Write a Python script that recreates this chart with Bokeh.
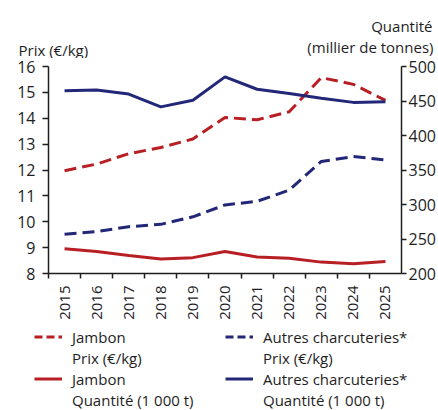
import math
from bokeh.plotting import figure
from bokeh.models import (Range1d, LinearAxis, FixedTicker, Label, Legend, LegendItem,
                          ColumnDataSource)
from bokeh.embed import file_html
from bokeh.resources import INLINE

years = [2015, 2016, 2017, 2018, 2019, 2020, 2021, 2022, 2023, 2024, 2025]
jambon_prix = [11.97, 12.23, 12.63, 12.87, 13.2, 14.03, 13.94, 14.25, 15.57, 15.31, 14.69]
autres_prix = [9.52, 9.62, 9.81, 9.9, 10.19, 10.65, 10.79, 11.22, 12.33, 12.52, 12.39]
jambon_qte = [236, 232, 226, 221, 223, 232, 224, 222, 216.5, 214, 217.5]
autres_qte = [465, 466, 460, 441.5, 451, 485, 467, 461, 454, 448, 449]

left_ticks = [8, 9, 10, 11, 12, 13, 14, 15, 16]
right_ticks = [200, 250, 300, 350, 400, 450, 500]

RED = "#b81f25"
BLUE = "#232778"
INK = "#1e1e1e"
FONT = "Open Sans"
W = 438


def bare_figure(h, xr, yr):
    f = figure(width=W, height=h, output_backend="svg", toolbar_location=None,
               x_range=xr, y_range=yr, x_axis_type=None, y_axis_type=None,
               min_border=0, min_border_left=0, min_border_right=0,
               min_border_top=0, min_border_bottom=0)
    f.title = None
    f.outline_line_color = None
    f.grid.visible = False
    return f


src = ColumnDataSource(dict(x=years, jp=jambon_prix, ap=autres_prix,
                            jq=jambon_qte, aq=autres_qte))

# ---------- header with axis titles ----------
HEAD_H = 58
head = bare_figure(HEAD_H, Range1d(0, W), Range1d(HEAD_H, 0))
for txt, x, y, al in [("Prix (€/kg)", 18, 49, "left"),
                      ("Quantité", 432, 25, "right"),
                      ("(millier de tonnes)", 433, 46, "right")]:
    head.add_layout(Label(x=x, y=y, text=txt, text_font=FONT, text_font_size="15px",
                          text_color=INK, text_align=al, text_baseline="alphabetic"))

# ---------- main chart ----------
x0, x1 = years[0] - 0.5, years[-1] + 0.5
TOP = 66 - HEAD_H
MAIN_H = 322 - HEAD_H
p = figure(width=W, height=MAIN_H, output_backend="svg", toolbar_location=None,
           x_range=Range1d(x0, x1),
           y_range=Range1d(left_ticks[0], left_ticks[-1]),
           min_border_left=48, min_border_right=37, min_border_top=TOP,
           min_border_bottom=MAIN_H - TOP - 212)
p.title = None
p.extra_y_ranges = {"q": Range1d(right_ticks[0], right_ticks[-1])}
p.outline_line_color = None
p.grid.visible = False

xa = p.xaxis[0]
xa.ticker = FixedTicker(ticks=years,
                        minor_ticks=[y + 0.5 for y in years[:-1]] + [x0])
xa.major_tick_in = 0
xa.major_tick_out = 0
xa.minor_tick_in = 0
xa.minor_tick_out = 5
xa.minor_tick_line_color = INK
xa.minor_tick_line_width = 1.5
xa.axis_line_color = INK
xa.axis_line_width = 1.5
xa.major_label_orientation = math.pi / 2
xa.major_label_standoff = 7
xa.major_label_text_font = FONT
xa.major_label_text_font_size = "15px"
xa.major_label_text_color = INK

ya = p.yaxis[0]
ya.ticker = FixedTicker(ticks=left_ticks)
ya.major_tick_in = 0
ya.major_tick_out = 6
ya.minor_tick_line_color = None
ya.major_tick_line_color = INK
ya.major_tick_line_width = 1.5
ya.axis_line_color = INK
ya.axis_line_width = 1.5
ya.major_label_standoff = 7
ya.major_label_text_font = FONT
ya.major_label_text_font_size = "16px"
ya.major_label_text_color = INK

ra = LinearAxis(y_range_name="q", ticker=FixedTicker(ticks=right_ticks))
ra.major_tick_in = 0
ra.major_tick_out = 5
ra.minor_tick_line_color = None
ra.major_tick_line_color = INK
ra.major_tick_line_width = 1.5
ra.axis_line_color = INK
ra.axis_line_width = 1.5
ra.major_label_standoff = 2
ra.major_label_text_font = FONT
ra.major_label_text_font_size = "16px"
ra.major_label_text_color = INK
p.add_layout(ra, "right")

p.line("x", "jp", source=src, line_color=RED, line_width=3, line_dash="12 6")
p.line("x", "ap", source=src, line_color=BLUE, line_width=3, line_dash="12 6")
p.line("x", "jq", source=src, line_color=RED, line_width=3, y_range_name="q")
p.line("x", "aq", source=src, line_color=BLUE, line_width=3, y_range_name="q")

# ---------- legend (own root; key glyphs take their style from series lines
# that lie outside this panel's visible range) ----------
LEG_H = 410 - 322
leg = bare_figure(LEG_H, Range1d(0, 1), Range1d(0, 1))
k_jp = leg.line("x", "jp", source=src, line_color=RED, line_width=3, line_dash="8 4")
k_ap = leg.line("x", "ap", source=src, line_color=BLUE, line_width=3, line_dash="8 4")
k_jq = leg.line("x", "jq", source=src, line_color=RED, line_width=3)
k_aq = leg.line("x", "aq", source=src, line_color=BLUE, line_width=3)
k_no = leg.line("x", "jp", source=src, line_alpha=0)

legend = Legend(items=[
    LegendItem(label="Jambon", renderers=[k_jp]),
    LegendItem(label="Autres charcuteries*", renderers=[k_ap]),
    LegendItem(label="Prix (€/kg)", renderers=[k_no]),
    LegendItem(label="Prix (€/kg)", renderers=[k_no]),
    LegendItem(label="Jambon", renderers=[k_jq]),
    LegendItem(label="Autres charcuteries*", renderers=[k_aq]),
    LegendItem(label="Quantité (1 000 t)", renderers=[k_no]),
    LegendItem(label="Quantité (1 000 t)", renderers=[k_no]),
], ncols=2, orientation="horizontal", location=(34, 0),
    label_text_font=FONT, label_text_font_size="15px", label_text_color=INK,
    glyph_width=28, glyph_height=21, label_standoff=10, spacing=0,
    label_width=153, label_height=21,
    border_line_color=None, background_fill_alpha=0, padding=0, margin=0)
leg.add_layout(legend, "center")

open("out.html", "w").write(file_html([head, p, leg], INLINE))
